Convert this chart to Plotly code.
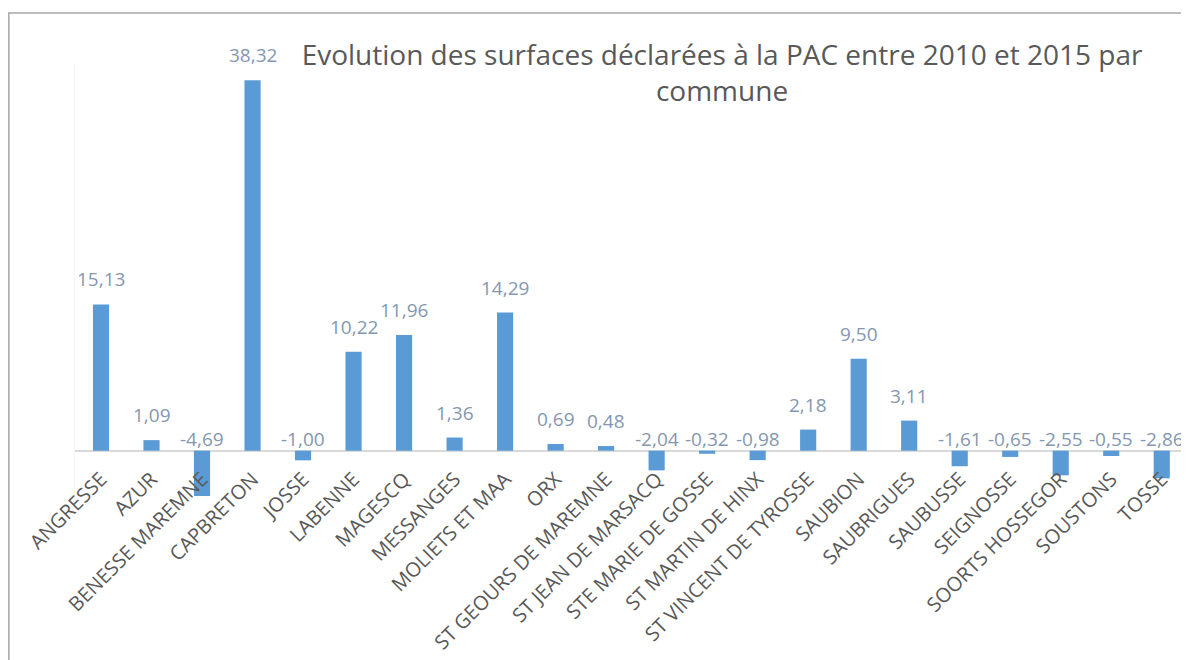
import plotly.graph_objects as go

communes = ["ANGRESSE", "AZUR", "BENESSE MAREMNE", "CAPBRETON", "JOSSE", "LABENNE",
            "MAGESCQ", "MESSANGES", "MOLIETS ET MAA", "ORX", "ST GEOURS DE MAREMNE",
            "ST JEAN DE MARSACQ", "STE MARIE DE GOSSE", "ST MARTIN DE HINX",
            "ST VINCENT DE TYROSSE", "SAUBION", "SAUBRIGUES", "SAUBUSSE", "SEIGNOSSE",
            "SOORTS HOSSEGOR", "SOUSTONS", "TOSSE"]
evolution = [15.13, 1.09, -4.69, 38.32, -1.00, 10.22, 11.96, 1.36, 14.29, 0.69, 0.48,
             -2.04, -0.32, -0.98, 2.18, 9.50, 3.11, -1.61, -0.65, -2.55, -0.55, -2.86]

title = "Evolution des surfaces déclarées à la PAC entre 2010 et 2015 par<br>commune"

labels = [f"{v:.2f}".replace(".", ",") for v in evolution]
label_y = [max(v, 0) for v in evolution]

FONT = "Open Sans, Lato, sans-serif"
Y_MIN, Y_MAX = -5, 40
PLOT_H = 652 - 56 - 161

fig = go.Figure()
fig.add_trace(go.Bar(x=communes, y=evolution, marker_color="#5B9BD5",
                     marker_line_width=0, width=0.32, hoverinfo="x+y"))

annotations = []
for c, v, t, yy in zip(communes, evolution, labels, label_y):
    annotations.append(dict(x=c, y=yy, xref="x", yref="y", text=t, showarrow=False,
                            yanchor="bottom", yshift=10 if v > 0 else -3,
                            font=dict(family=FONT, size=19, color="#8497B0")))

fig.update_layout(
    width=1181, height=652,
    margin=dict(l=67, r=2, t=56, b=161, autoexpand=False),
    paper_bgcolor="white", plot_bgcolor="white",
    showlegend=False,
    title=dict(text=title, x=0.6046, xanchor="center", y=0.913, yanchor="top",
               font=dict(family=FONT, size=28, color="#595959")),
    xaxis=dict(tickangle=-45, tickfont=dict(family=FONT, size=20, color="#595959"),
               showgrid=False, showline=False, zeroline=False, ticks="",
               automargin=False, anchor="free",
               position=(0 - Y_MIN) / (Y_MAX - Y_MIN) - 12 / PLOT_H),
    yaxis=dict(range=[Y_MIN, Y_MAX], showticklabels=False, showgrid=False,
               zeroline=True, zerolinecolor="#D9D9D9", zerolinewidth=2,
               showline=True, linecolor="#FDF3E6", linewidth=1, ticks="",
               automargin=False),
    annotations=annotations,
    shapes=[dict(type="rect", xref="paper", yref="paper",
                 x0=-0.0595, x1=1.02, y0=-0.45, y1=1.117,
                 line=dict(color="#A6A6A6", width=1.5), layer="below")],
)

fig.write_html("out.html")
